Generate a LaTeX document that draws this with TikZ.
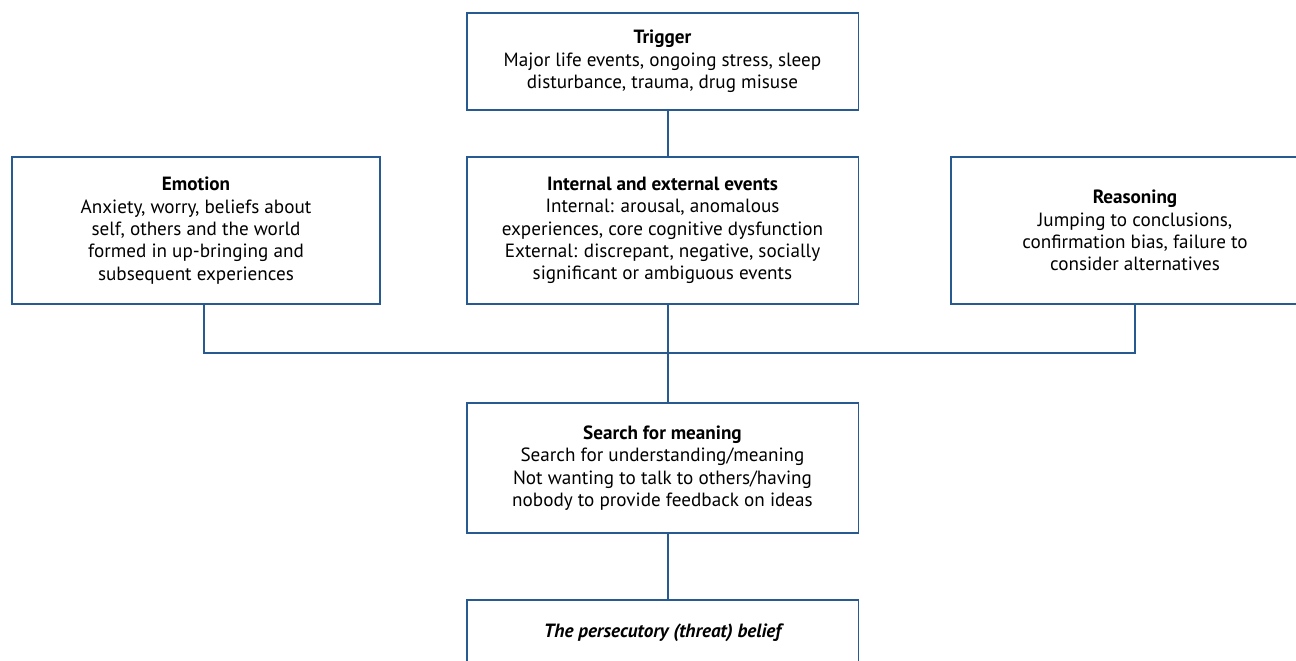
\documentclass[tikz,border=0pt]{standalone}
\usepackage{fontspec}
\setmainfont{PT Sans}
\usetikzlibrary{positioning, calc}
\definecolor{frameblue}{RGB}{38,90,145}

\begin{document}
\begin{tikzpicture}[x=0.02cm, y=-0.02cm,
    box/.style={draw=frameblue, line width=1.1pt, fill=white, align=center, inner sep=2pt,
      minimum width=7.84cm, font=\fontsize{10.9}{12.7}\selectfont},
    link/.style={draw=frameblue, line width=1.1pt}]
      \clip (0, 0) rectangle (1296, 661);

      \node[box, minimum height=1.94cm] (trig) at (662.5, 61.5) {\textbf{Trigger}\\Major life events, ongoing stress, sleep\\disturbance, trauma, drug misuse};
      \node[box, minimum height=2.94cm] (events) at (662.5, 230.5) {\textbf{Internal and external events}\\Internal: arousal, anomalous\\experiences, core cognitive dysfunction\\External: discrepant, negative, socially\\significant or ambiguous events};
      \node[box, minimum height=2.94cm, minimum width=7.36cm] (emo) at (196, 230.5) {\textbf{Emotion}\\Anxiety, worry, beliefs about\\self, others and the world\\formed in up-bringing and\\subsequent experiences};
      \node[box, minimum height=2.94cm, minimum width=7.36cm] (reas) at (1135, 230.5) {\textbf{Reasoning}\\Jumping to conclusions,\\confirmation bias, failure to\\consider alternatives};
      \node[box, minimum height=2.6cm] (search) at (662.5, 468) {\textbf{Search for meaning}\\Search for understanding/meaning\\Not wanting to talk to others/having\\nobody to provide feedback on ideas};
      \node[box, minimum height=1.8cm, anchor=north] (belief) at (662.5, 599) {};
      \node[font=\fontsize{10.9}{12.7}\selectfont\bfseries\itshape] (belieftxt) at (662.5, 633) {The persecutory (threat) belief};

      \coordinate (jn) at (668, 353);
      \coordinate (emojn) at (204, 353);

      \draw[link] (trig.south -| jn) -- (events.north -| jn);
      \draw[link] (events.south -| jn) -- (search.north -| jn);
      \draw[link] (emo.south -| emojn) -- (emojn) -| (reas.south);
      \draw[link] (search.south -| jn) -- (belief.north -| jn);

    \end{tikzpicture}
\end{document}
